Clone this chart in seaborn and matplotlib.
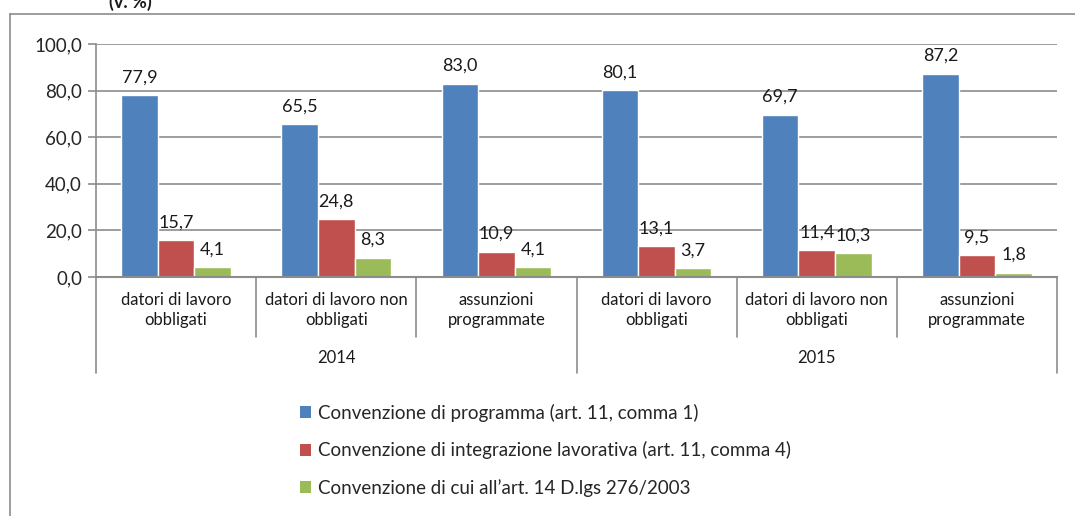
import seaborn as sns
import matplotlib.pyplot as plt
import matplotlib.transforms as mtransforms
from matplotlib.patches import Patch
import pandas as pd

# chart data
years = ["2014", "2015"]
categories = ["datori di lavoro\nobbligati", "datori di lavoro non\nobbligati", "assunzioni\nprogrammate"]
series = [
    "Convenzione di programma (art. 11, comma 1)",
    "Convenzione di integrazione lavorativa (art. 11, comma 4)",
    "Convenzione di cui all\u2019art. 14 D.lgs 276/2003",
]
programma = [77.9, 65.5, 83.0, 80.1, 69.7, 87.2]
integrazione = [15.7, 24.8, 10.9, 13.1, 11.4, 9.5]
art14 = [4.1, 8.3, 4.1, 3.7, 10.3, 1.8]
colors = ["#4F81BD", "#C0504D", "#9BBB59"]

slots = [f"{y}|{c}" for y in years for c in categories]
rows = []
for name, vals in zip(series, [programma, integrazione, art14]):
    for s, v in zip(slots, vals):
        rows.append({"slot": s, "serie": name, "valore": v})
df = pd.DataFrame(rows)

sns.set_style("white")
plt.rcParams["font.family"] = ["Lato", "DejaVu Sans"]

fig = plt.figure(figsize=(10.75, 5.16), dpi=100)
ax = fig.add_axes([96 / 1075, (516 - 277) / 516, (1057 - 96) / 1075, (277 - 44) / 516])

sns.barplot(data=df, x="slot", y="valore", hue="serie", order=slots, hue_order=series,
            palette=colors, width=0.685, saturation=1, ax=ax, legend=False)

for cont in ax.containers:
    labels = [f"{b.get_height():.1f}".replace(".", ",") for b in cont]
    ax.bar_label(cont, labels=labels, padding=7, fontsize=13, color="#1a1a1a")

ax.set_ylim(0, 100)
ax.set_xlim(-0.5, len(slots) - 0.5)
ax.set_yticks(range(0, 101, 20))
ax.set_yticklabels([f"{t:.1f}".replace(".", ",") for t in range(0, 101, 20)], fontsize=13.5)
ax.yaxis.grid(True, color="#8c8c8c", lw=1.2)
ax.set_axisbelow(True)
ax.tick_params(axis="y", left=True, length=6, color="#8c8c8c", width=1.2, pad=4)
ax.set_xticks([])
ax.set_xlabel("")
ax.set_ylabel("")
for sp in ["top", "right"]:
    ax.spines[sp].set_visible(False)
ax.spines["left"].set_color("#8c8c8c")
ax.spines["left"].set_linewidth(1.2)
ax.spines["bottom"].set_color("#8c8c8c")
ax.spines["bottom"].set_linewidth(1.5)

# two-level category axis
trans = mtransforms.blended_transform_factory(ax.transData, ax.transAxes)
h_px = 277 - 44
inner_bottom = -(337 - 277) / h_px
outer_bottom = -(373 - 277) / h_px
for i in range(len(slots) + 1):
    x = i - 0.5
    yb = outer_bottom if i % 3 == 0 else inner_bottom
    ax.plot([x, x], [0, yb], transform=trans, color="#8c8c8c", lw=1.2, clip_on=False)
for i, s in enumerate(slots):
    ax.text(i, -(310 - 277) / h_px, s.split("|")[1], transform=trans, ha="center", va="center",
            fontsize=12, linespacing=1.35, color="#1a1a1a")
for j, y in enumerate(years):
    ax.text(j * 3 + 1, -(358 - 277) / h_px, y, transform=trans, ha="center", va="center",
            fontsize=12, color="#1a1a1a")

# outer chart frame and title (cut off at the top, as in the source)
fig.add_artist(plt.Line2D([10 / 1075, 10 / 1075], [0, (516 - 14) / 516], color="#8c8c8c", lw=1.2))
fig.add_artist(plt.Line2D([10 / 1075, 1], [(516 - 14) / 516, (516 - 14) / 516], color="#8c8c8c", lw=1.2))
fig.text(130 / 1075, (516 - 2) / 516, "(v. %)", ha="center", va="center", fontsize=13,
         fontweight="bold", color="#1a1a1a")

handles = [Patch(facecolor=c, edgecolor="none") for c in colors]
fig.legend(handles, series, loc="upper left", bbox_to_anchor=(292 / 1075, (516 - 396) / 516),
           frameon=False, fontsize=13.5, handlelength=0.6, handleheight=0.6, handletextpad=0.4,
           labelspacing=1.05, borderaxespad=0)

fig.savefig("out.png", dpi=100)
